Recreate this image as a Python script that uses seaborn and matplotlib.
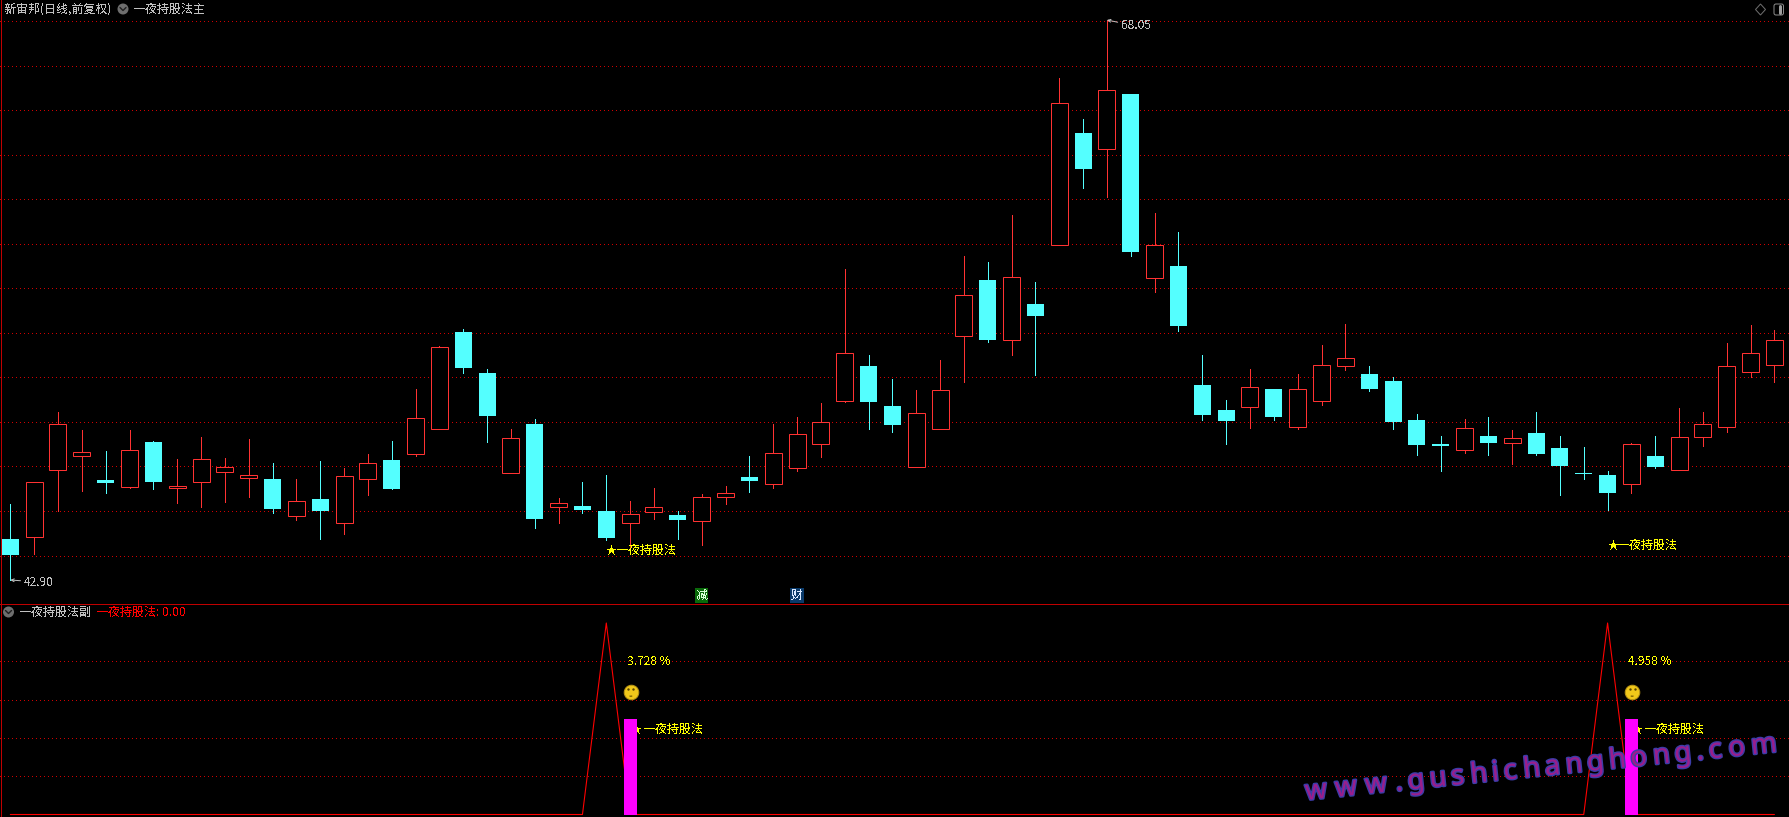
import matplotlib
matplotlib.use("Agg")
import matplotlib.pyplot as plt
import matplotlib.patheffects as pe
from matplotlib.font_manager import FontProperties
from matplotlib.patches import Arc, Circle, FancyBboxPatch, Polygon
from matplotlib.textpath import TextPath
import numpy as np
import seaborn as sns

# ---------------- DATA ----------------
days = list(range(75))
opens = [44.74, 44.85, 47.85, 48.48, 47.39, 47.09, 49.10, 47.05, 47.31, 47.76,
         47.49, 47.44, 45.79, 46.54, 45.47, 47.45, 48.29, 48.57, 49.68, 54.04,
         52.20, 47.71, 49.91, 46.19, 46.22, 46.00, 45.47, 45.97, 45.82, 45.56,
         46.64, 47.53, 47.22, 47.94, 49.02, 50.95, 52.51, 50.72, 47.99, 49.70,
         53.87, 56.37, 53.69, 55.30, 57.96, 62.98, 62.27, 64.73, 56.48, 57.00,
         51.66, 50.54, 50.68, 51.48, 49.78, 50.95, 52.52, 52.15, 51.84, 50.09,
         49.01, 48.74, 49.37, 49.07, 49.50, 48.83, 47.71, 47.62, 47.22, 48.47,
         47.85, 49.34, 49.78, 52.26, 52.57]
closes = [44.02, 47.29, 49.89, 48.64, 47.26, 48.73, 47.30, 47.11, 48.32, 47.96,
          47.60, 46.09, 46.43, 46.00, 47.56, 48.14, 46.99, 50.16, 53.36, 52.42,
          50.27, 49.26, 45.64, 46.35, 46.04, 44.79, 45.85, 46.17, 45.59, 46.61,
          46.79, 47.35, 48.59, 49.44, 49.98, 53.08, 50.89, 49.86, 50.39, 51.42,
          55.69, 53.68, 56.49, 54.76, 64.31, 61.36, 64.89, 57.63, 57.93, 54.31,
          50.31, 50.04, 51.55, 50.22, 51.46, 52.54, 52.86, 51.48, 50.00, 48.96,
          48.92, 49.71, 49.05, 49.26, 48.56, 48.02, 47.66, 46.81, 48.99, 47.98,
          49.31, 49.89, 52.50, 53.08, 53.67]
highs = [46.31, 47.29, 50.45, 49.64, 48.69, 49.64, 49.14, 48.33, 49.32, 48.38,
         49.23, 48.16, 47.44, 48.24, 47.93, 48.56, 49.14, 51.48, 53.41, 54.17,
         52.38, 49.68, 50.13, 46.58, 47.30, 47.62, 46.45, 47.03, 46.00, 46.76,
         47.12, 48.47, 49.91, 50.22, 50.85, 56.87, 53.01, 51.93, 51.43, 52.78,
         57.45, 57.18, 59.29, 56.28, 65.45, 63.60, 68.05, 64.73, 59.38, 58.53,
         53.01, 50.98, 52.38, 51.48, 52.15, 53.45, 54.40, 52.51, 52.02, 50.36,
         49.37, 50.13, 50.22, 49.64, 50.45, 49.37, 48.87, 47.80, 49.05, 49.37,
         50.63, 50.45, 53.54, 54.35, 54.13]
lows = [42.90, 44.07, 45.99, 46.90, 46.81, 47.03, 46.99, 46.36, 46.18, 46.40,
        46.63, 45.91, 45.59, 44.74, 44.97, 46.72, 46.99, 48.47, 49.68, 52.20,
        49.10, 47.71, 45.24, 45.46, 45.91, 44.70, 44.38, 45.64, 44.74, 44.47,
        46.31, 46.85, 47.03, 47.80, 48.42, 50.89, 49.68, 49.55, 47.99, 49.70,
        51.79, 53.59, 53.01, 52.11, 57.96, 60.51, 60.10, 57.45, 55.83, 54.08,
        50.09, 49.01, 49.73, 50.09, 49.68, 50.76, 52.33, 51.39, 49.68, 48.51,
        47.80, 48.60, 48.51, 48.11, 48.51, 46.72, 47.44, 46.04, 46.81, 47.93,
        47.85, 48.92, 49.55, 52.02, 51.79]
grid_prices = [68, 66, 64, 62, 60, 58, 56, 54, 52, 50, 48, 46, 44]

signal = [0, 0, 0, 0, 0, 0, 0, 0, 0, 0, 0, 0, 0, 0, 0, 0, 0, 0, 0, 0, 0, 0, 0, 0, 0,
          1, 0, 0, 0, 0, 0, 0, 0, 0, 0, 0, 0, 0, 0, 0, 0, 0, 0, 0, 0, 0, 0, 0, 0, 0,
          0, 0, 0, 0, 0, 0, 0, 0, 0, 0, 0, 0, 0, 0, 0, 0, 0, 1, 0, 0, 0, 0, 0, 0, 0]
sub_bars = [0, 0, 0, 0, 0, 0, 0, 0, 0, 0, 0, 0, 0, 0, 0, 0, 0, 0, 0, 0, 0, 0, 0, 0, 0,
            0, 0.5, 0, 0, 0, 0, 0, 0, 0, 0, 0, 0, 0, 0, 0, 0, 0, 0, 0, 0, 0, 0, 0, 0, 0,
            0, 0, 0, 0, 0, 0, 0, 0, 0, 0, 0, 0, 0, 0, 0, 0, 0, 0, 0.5, 0, 0, 0, 0, 0, 0]
sub_grid = [0.2, 0.4, 0.6, 0.8]
signal_days = [26, 68]
gain_labels = ["3.728 %", "4.958 %"]
star_days = [25, 67]
star_prices = [44.25, 44.47]
event_days = [29, 33]
event_labels = ["减", "财"]

# ---------------- STYLE ----------------
W, H = 1789, 817
RED = "#ff3232"
CYAN = "#54ffff"
GRID = "#d00000"
GREY = "#c0c0c0"
YELLOW = "#ffff00"
PX = 0.72  # one pixel in points at dpi 100

sns.set_theme(style="dark", rc={"axes.facecolor": "black", "figure.facecolor": "black",
                                "savefig.facecolor": "black"})
plt.rcParams["font.family"] = ["Noto Sans CJK SC", "DejaVu Sans"]
plt.rcParams["text.antialiased"] = False
FS = 12 * PX

fig = plt.figure(figsize=(W / 100, H / 100), dpi=100)
ax_main = fig.add_axes([0, 1 - 603 / H, 1, 603 / H])
ax_sub = fig.add_axes([0, 0, 1, 214 / H])
ax_px = fig.add_axes([0, 0, 1, 1])
ax_px.set_xlim(0, W)
ax_px.set_ylim(H, 0)
ax_px.axis("off")
ax_px.patch.set_alpha(0)

# x: day i sits at 10.3 + 23.84 * i pixels, in both panels
x_lim = (-10.3 / 23.84, (W - 10.3) / 23.84)


def star_label(ax, d, y, zorder, text_dx=0.41):
    # small star, then the label right after it
    ax.text(d + 0.22, y, "★", color=YELLOW, fontsize=11 * PX, va="center", ha="center", zorder=zorder)
    ax.text(d + text_dx, y, "一夜持股法", color=YELLOW, fontsize=FS, va="center", ha="left", zorder=zorder)


# ---------------- MAIN PANEL ----------------
o, c, h, l = map(np.array, (opens, closes, highs, lows))
up = c >= o
tops = np.maximum(o, c)
bottoms = np.minimum(o, c)
body_w = 17 / 23.84

for mask, col, face in ((up, RED, "black"), (~up, CYAN, CYAN)):
    x = np.array(days)[mask]
    wick = ax_main.vlines(x, l[mask], h[mask], color=col, linewidth=PX, zorder=2)
    wick.set_antialiased(False)
    ax_main.bar(x, tops[mask] - bottoms[mask], bottom=bottoms[mask], width=body_w,
                facecolor=face, edgecolor=col, linewidth=PX if face == "black" else 0, zorder=3)

ax_main.set_xlim(*x_lim)
ax_main.set_ylim(68.948 - 0.04491 * 603, 68.948)

for d, p in zip(star_days, star_prices):
    star_label(ax_main, d, p, 5)

for d, lab, bg, fg in zip(event_days, event_labels, ["#0a6a0a", "#0a3a6a"], ["#d8ffd8", "#d8e8ff"]):
    ax_main.text(d, 42.2, lab, color=fg, fontsize=FS, ha="center", va="center", zorder=5,
                 bbox=dict(boxstyle="square,pad=0.05", facecolor=bg, edgecolor="none"))

imax, imin = int(np.argmax(h)), int(np.argmin(l))
arrow = dict(arrowstyle="->", color=GREY, lw=PX, shrinkA=0, shrinkB=0, mutation_scale=5)
ax_main.annotate(f"{h[imax]:.2f}", xy=(imax, h[imax]), xytext=(14, -6), textcoords="offset pixels",
                 color=GREY, fontsize=FS, va="center", arrowprops=arrow, zorder=5)
ax_main.annotate(f"{l[imin]:.2f}", xy=(imin, l[imin]), xytext=(13.5, -2), textcoords="offset pixels",
                 color=GREY, fontsize=FS, va="center", arrowprops=arrow, zorder=5)

# ---------------- SUB PANEL ----------------
for d, gain in zip(signal_days, gain_labels):
    star_label(ax_sub, d + 0.03, 0.446, 1.5, text_dx=0.52)
    ax_sub.text(d - 0.14, 0.80, gain, color=YELLOW, fontsize=FS, va="center", ha="left", zorder=5)
    # smiley above the bar
    sx, sy = d + 0.03, 0.64
    ax_sub.scatter([sx], [sy], s=110, color="#f0c81a", edgecolor="#b89414", linewidth=PX, zorder=5)
    ax_sub.scatter([sx - 2.5 / 23.84, sx + 2.5 / 23.84], [sy + 2.5 / 191.5] * 2, s=3, color="#5a4400",
                   linewidth=0, zorder=6)
    ax_sub.add_patch(Arc((sx, sy), 8.5 / 23.84, 8.5 / 191.5, theta1=200, theta2=340,
                         color="#5a4400", lw=PX, zorder=6))

sns.lineplot(x=days, y=signal, ax=ax_sub, color="#ff0000", linewidth=PX * 1.1, errorbar=None, zorder=3)
sns.barplot(x=days, y=sub_bars, ax=ax_sub, native_scale=True, color="#ff00ff", saturation=1,
            width=13 / 23.84, linewidth=0, errorbar=None, zorder=4)
ax_sub.set_xlim(*x_lim)
ax_sub.set_ylim((814.5 - 817) / 191.5, (814.5 - 603) / 191.5)

# ---------------- GRID ----------------
for ax, ticks in ((ax_main, grid_prices), (ax_sub, sub_grid)):
    ax.set_xticks([])
    ax.set_yticks(ticks)
    ax.set_xlabel("")
    ax.set_ylabel("")
    ax.tick_params(length=0, labelleft=False, labelbottom=False)
    ax.grid(True, axis="y", color=GRID, linestyle=(0, (0.7, 3.3)), linewidth=PX, antialiased=False)
    ax.grid(False, axis="x")
    ax.set_axisbelow(True)
    for s in ax.spines.values():
        s.set_visible(False)

# ---------------- PANEL CHROME ----------------
ax_px.plot([0.5, 0.5], [0, H], color="#c00000", lw=PX, antialiased=False)
ax_px.plot([W - 0.5, W - 0.5], [14, H], color="#c00000", lw=PX, antialiased=False)
ax_px.plot([0, W], [603.5, 603.5], color="#c00000", lw=PX, antialiased=False)


def menu_icon(cx, cy):
    ax_px.add_patch(Circle((cx, cy), 5.5, facecolor="#6e6e6e", edgecolor="none"))
    ax_px.plot([cx - 3, cx, cx + 3], [cy - 1.5, cy + 1.5, cy - 1.5], color="#202020", lw=1.0)


menu_icon(123, 9)
menu_icon(8.5, 612)
ax_px.text(4, 9.5, "新宙邦(日线,前复权)", color=GREY, fontsize=FS, va="center")
ax_px.text(133, 9.5, "一夜持股法主", color=GREY, fontsize=FS, va="center")
ax_px.text(19, 612, "一夜持股法副", color=GREY, fontsize=FS, va="center")
ax_px.text(96, 612, "一夜持股法:", color="#ff0000", fontsize=FS, va="center")
ax_px.text(162.5, 612, "0.00", color="#ff0000", fontsize=FS, va="center")

ax_px.add_patch(Polygon([(1760.5, 4), (1765.5, 9.5), (1760.5, 15), (1755.5, 9.5)], fill=False,
                        edgecolor="#6e6e6e", lw=PX))
ax_px.add_patch(FancyBboxPatch((1775, 5), 7.5, 9, boxstyle="round,pad=1,rounding_size=2", fill=False,
                               edgecolor="#8a8a8a", lw=PX))
ax_px.plot([1779.5, 1779.5], [6, 13], color="#a0a0a0", lw=3 * PX)

# ---------------- WATERMARK ----------------
mark = "www.gushichanghong.com"
mark_fs = 20
mark_prop = FontProperties(family="Noto Sans", weight="normal", size=mark_fs)
widths = [TextPath((0, 0), ch, prop=mark_prop).get_extents().width / PX for ch in mark]
x0, y0, x1, y1 = 1306, 800, 1773, 752
length = np.hypot(x1 - x0, y1 - y0)
ux, uy = (x1 - x0) / length, (y1 - y0) / length
track = (length - sum(widths)) / (len(mark) - 1)
angle = np.degrees(np.arctan2(y0 - y1, x1 - x0))
pos = 0
for ch, w in zip(mark, widths):
    t = ax_px.text(x0 + ux * pos, y0 + uy * pos, ch, fontproperties=mark_prop, color="#9a1e8c",
                   rotation=angle, rotation_mode="anchor", ha="left", va="baseline",
                   antialiased=True, zorder=10)
    t.set_path_effects([pe.withStroke(linewidth=2.0, foreground="#3c3ca8")])
    pos += w + track

fig.savefig("out.png", dpi=100)
